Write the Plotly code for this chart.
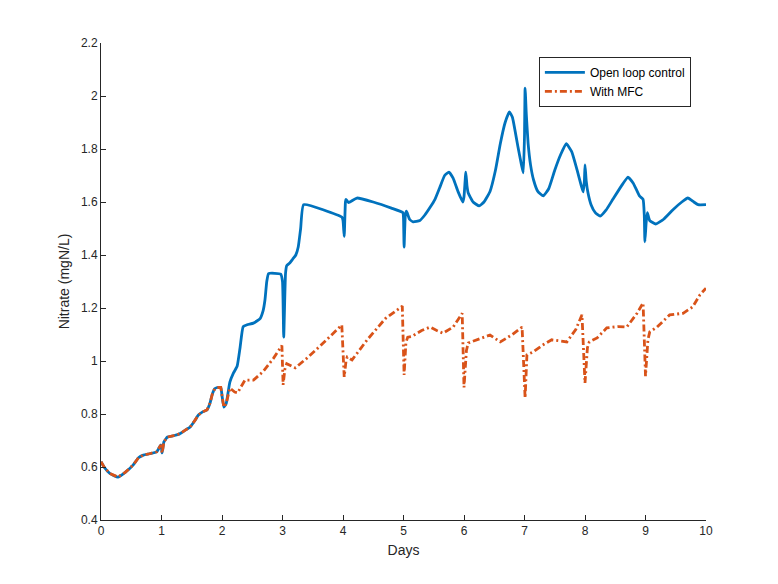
import plotly.graph_objects as go

# Shared part of both series (identical up to ~day 2.07)
common_days = [0, 0.05, 0.15, 0.28, 0.4, 0.53, 0.62, 0.7, 0.8, 0.92, 0.99, 1.01, 1.04, 1.1,
               1.2, 1.3, 1.4, 1.47, 1.55, 1.61, 1.68, 1.75, 1.8, 1.84, 1.88, 1.92, 1.98, 2.0,
               2.03, 2.07]
common_vals = [0.62, 0.60, 0.575, 0.562, 0.58, 0.607, 0.635, 0.645, 0.65, 0.657, 0.683, 0.653,
               0.695, 0.713, 0.718, 0.725, 0.74, 0.75, 0.775, 0.796, 0.808, 0.815, 0.84, 0.875,
               0.895, 0.90, 0.90, 0.87, 0.826, 0.84]

open_days = [2.1, 2.13, 2.19, 2.25, 2.3, 2.35, 2.42, 2.52, 2.63, 2.68, 2.71, 2.74, 2.77, 2.97,
             3.0, 3.02, 3.05, 3.07, 3.12, 3.17, 3.22, 3.26, 3.3, 3.35, 3.98, 4.0, 4.02, 4.04,
             4.05, 4.09, 4.23, 4.5, 4.8, 4.99, 5.0, 5.01, 5.03, 5.05, 5.1, 5.16, 5.27, 5.35,
             5.44, 5.52, 5.6, 5.68, 5.75, 5.82, 5.9, 5.98, 6.0, 6.03, 6.05, 6.07, 6.15, 6.25,
             6.33, 6.43, 6.52, 6.6, 6.68, 6.75, 6.8, 6.89, 6.95, 6.98, 7.0, 7.01, 7.03, 7.06,
             7.1, 7.15, 7.22, 7.31, 7.4, 7.5, 7.6, 7.69, 7.78, 7.87, 7.94, 7.97, 7.99, 8.0,
             8.02, 8.05, 8.1, 8.17, 8.25, 8.35, 8.46, 8.6, 8.71, 8.8, 8.9, 8.96, 8.98, 8.99,
             9.01, 9.03, 9.07, 9.17, 9.3, 9.45, 9.6, 9.7, 9.8, 9.87, 10.0]
open_vals = [0.88, 0.92, 0.955, 0.98, 1.053, 1.13, 1.137, 1.143, 1.16, 1.19, 1.23, 1.3, 1.33,
             1.328, 1.3, 1.09, 1.33, 1.36, 1.37, 1.385, 1.4, 1.43, 1.5, 1.59, 1.543, 1.53,
             1.47, 1.6, 1.61, 1.598, 1.615, 1.6, 1.577, 1.56, 1.54, 1.43, 1.55, 1.565, 1.535,
             1.525, 1.53, 1.55, 1.58, 1.61, 1.655, 1.7, 1.713, 1.69, 1.64, 1.6, 1.62, 1.713,
             1.66, 1.634, 1.6, 1.585, 1.6, 1.64, 1.72, 1.82, 1.9, 1.94, 1.92, 1.81, 1.74, 1.71,
             1.85, 2.03, 1.93, 1.82, 1.74, 1.683, 1.64, 1.623, 1.65, 1.72, 1.78, 1.82, 1.79,
             1.72, 1.66, 1.638, 1.68, 1.74, 1.68, 1.634, 1.59, 1.56, 1.547, 1.57, 1.61, 1.66,
             1.694, 1.67, 1.623, 1.61, 1.55, 1.45, 1.52, 1.56, 1.53, 1.517, 1.535, 1.57, 1.6,
             1.615, 1.6, 1.59, 1.59]

mfc_days = [2.1, 2.13, 2.21, 2.26, 2.32, 2.38, 2.52, 2.68, 2.85, 2.99, 3.01, 3.04, 3.07, 3.12,
            3.21, 3.4, 3.62, 3.98, 4.02, 4.05, 4.07, 4.15, 4.4, 4.7, 4.98, 5.01, 5.04, 5.07,
            5.14, 5.3, 5.44, 5.55, 5.65, 5.82, 5.97, 6.0, 6.04, 6.07, 6.21, 6.43, 6.6, 6.8,
            6.96, 7.01, 7.04, 7.14, 7.3, 7.45, 7.7, 7.85, 7.95, 8.0, 8.04, 8.07, 8.2, 8.36,
            8.55, 8.69, 8.86, 8.96, 9.0, 9.04, 9.07, 9.19, 9.4, 9.62, 9.78, 9.9, 10.0]
mfc_vals = [0.87, 0.898, 0.883, 0.88, 0.905, 0.928, 0.928, 0.96, 1.01, 1.058, 0.91, 0.97,
            0.99, 0.985, 0.974, 1.01, 1.056, 1.136, 0.94, 1.0, 1.015, 1.004, 1.08, 1.16,
            1.207, 0.947, 1.07, 1.09, 1.093, 1.115, 1.128, 1.115, 1.105, 1.128, 1.18, 0.90,
            1.04, 1.068, 1.08, 1.098, 1.072, 1.1, 1.128, 0.86, 1.023, 1.034, 1.06, 1.08,
            1.072, 1.12, 1.174, 0.917, 1.05, 1.072, 1.087, 1.125, 1.13, 1.128, 1.18, 1.219,
            0.943, 1.08, 1.11, 1.128, 1.174, 1.18, 1.204, 1.25, 1.275]

x_ticks = [0, 1, 2, 3, 4, 5, 6, 7, 8, 9, 10]
y_ticks = [0.4, 0.6, 0.8, 1.0, 1.2, 1.4, 1.6, 1.8, 2.0, 2.2]

fig = go.Figure()
fig.add_trace(go.Scatter(x=common_days + open_days, y=common_vals + open_vals,
                         mode="lines", name="Open loop control",
                         line=dict(color="#0072BD", width=2.8, shape="spline", smoothing=0.4)))
fig.add_trace(go.Scatter(x=common_days + mfc_days, y=common_vals + mfc_vals,
                         mode="lines", name="With MFC",
                         line=dict(color="#D95319", width=2.8, dash="7px,3px,2px,3px")))

axis_common = dict(showline=True, linecolor="#262626", linewidth=1, ticks="inside",
                   ticklen=5, tickcolor="#262626", showgrid=False, zeroline=False,
                   tickfont=dict(family="Liberation Sans, Arial", size=12, color="#262626"),
                   mirror=False, automargin=False)

fig.update_layout(
    width=778, height=584,
    margin=dict(l=93, r=80, t=35, b=72),
    paper_bgcolor="white", plot_bgcolor="white",
    font=dict(family="Liberation Sans, Arial", color="#262626"),
    xaxis=dict(range=[0, 10], tickvals=x_ticks,
               title=dict(text="Days", font=dict(size=14), standoff=7), **axis_common),
    yaxis=dict(range=[0.4, 2.2], tickvals=y_ticks,
               title=dict(text="Nitrate (mgN/L)", font=dict(size=14), standoff=8),
               **axis_common),
    legend=dict(x=0.975, y=0.971, xanchor="right", yanchor="top",
                bgcolor="white", bordercolor="#262626", borderwidth=1,
                font=dict(size=12, color="black"), tracegroupgap=0,
                itemwidth=40),
    showlegend=True,
)

fig.write_html("out.html")
